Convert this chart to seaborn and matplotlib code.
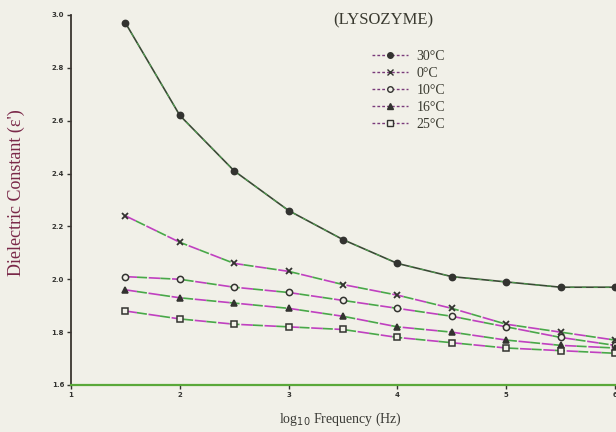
import matplotlib
matplotlib.use("Agg")
import matplotlib.pyplot as plt
from matplotlib.lines import Line2D
import seaborn as sns
import pandas as pd

log_freq = [1.5, 2.0, 2.5, 3.0, 3.5, 4.0, 4.5, 5.0, 5.5, 6.0]
eps_30 = [2.97, 2.62, 2.41, 2.26, 2.15, 2.06, 2.01, 1.99, 1.97, 1.97]
eps_0 = [2.24, 2.14, 2.06, 2.03, 1.98, 1.94, 1.89, 1.83, 1.80, 1.77]
eps_10 = [2.01, 2.00, 1.97, 1.95, 1.92, 1.89, 1.86, 1.82, 1.78, 1.75]
eps_16 = [1.96, 1.93, 1.91, 1.89, 1.86, 1.82, 1.80, 1.77, 1.75, 1.74]
eps_25 = [1.88, 1.85, 1.83, 1.82, 1.81, 1.78, 1.76, 1.74, 1.73, 1.72]

series_labels = ["30°C", "0°C", "10°C", "16°C", "25°C"]
series_values = [eps_30, eps_0, eps_10, eps_16, eps_25]
markers = ["o", "x", "o", "^", "s"]
filled = [True, True, False, True, False]

x_ticks = [1, 2, 3, 4, 5, 6]
y_ticks = [1.6, 1.8, 2.0, 2.2, 2.4, 2.6, 2.8, 3.0]

sns.set_theme(style="white")
plt.rcParams["font.family"] = ["Liberation Serif", "DejaVu Serif"]

paper = "#f1f0e8"
fig = plt.figure(figsize=(6.16, 4.32), dpi=100, facecolor=paper)
ax = fig.add_axes([0.1153, 0.1088, 0.8831, 0.8565])
ax.set_facecolor(paper)

dark = "#333330"
handles = []
for i, (lab, vals, mk, fl) in enumerate(zip(series_labels, series_values, markers, filled)):
    df = pd.DataFrame({"x": log_freq, "y": vals})
    if i == 0:
        sns.lineplot(data=df, x="x", y="y", ax=ax, color="#3a4a35", lw=1.2,
                     legend=False)
        sns.lineplot(data=df, x="x", y="y", ax=ax, color="#50b050", lw=0.6,
                     linestyle=(0, (5, 9)), legend=False)
    else:
        sns.lineplot(data=df, x="x", y="y", ax=ax, color="#c040c0", lw=1.2,
                     linestyle=(0, (7, 7)), legend=False)
        sns.lineplot(data=df, x="x", y="y", ax=ax, color="#48a848", lw=1.2,
                     linestyle=(7, (6, 8)), legend=False)
    if mk == "x":
        ax.plot(log_freq, vals, linestyle="none", marker=mk, ms=4.5,
                mec=dark, mew=1.3, zorder=5)
    else:
        ax.plot(log_freq, vals, linestyle="none", marker=mk, ms=4.5,
                mfc=dark if fl else paper, mec=dark, mew=1.1, zorder=5)
    handles.append(Line2D([], [], color="#7a3a7a", lw=1, linestyle=(0, (2, 1.5)),
                          marker=mk, ms=4,
                          mfc=dark if (fl or mk == "x") else paper, mec=dark))

ax.set_xlim(1, 6)
ax.set_ylim(1.6, 3.0)
ax.set_xticks(x_ticks)
ax.set_xticklabels([str(t) for t in x_ticks])
ax.set_yticks(y_ticks)
ax.set_yticklabels([f"{t:.1f}" for t in y_ticks])
ax.tick_params(axis="both", which="both", direction="out", length=3, width=1,
               labelsize=5, colors=dark, pad=2, bottom=True, left=True)
for lbl in ax.get_xticklabels() + ax.get_yticklabels():
    lbl.set_fontweight("bold")
    lbl.set_family(["DejaVu Sans"])

for s in ["top", "right"]:
    ax.spines[s].set_visible(False)
ax.spines["left"].set_color("#3a3530")
ax.spines["left"].set_linewidth(1.3)
ax.spines["bottom"].set_color("#5aa83a")
ax.spines["bottom"].set_linewidth(1.6)

ax.set_xlabel("log$_{10}$ Frequency (Hz)", fontsize=10, color="#3a3a35")
ax.xaxis.set_label_coords(0.495, -0.07)
ax.set_ylabel("Dielectric Constant (ε')", fontsize=13, color="#7a2848")
ax.yaxis.set_label_coords(-0.085, 0.52)

fig.text(0.623, 0.952, "(LYSOZYME)", ha="center", va="center", fontsize=12,
         color="#3a3a30")

leg = ax.legend(handles, series_labels, loc="upper left",
                bbox_to_anchor=(0.53, 0.94), frameon=False, fontsize=10,
                handlelength=2.6, handletextpad=0.6, labelspacing=0.3,
                labelcolor="#3a3a30")

fig.savefig("out.png", dpi=100, facecolor=paper)
